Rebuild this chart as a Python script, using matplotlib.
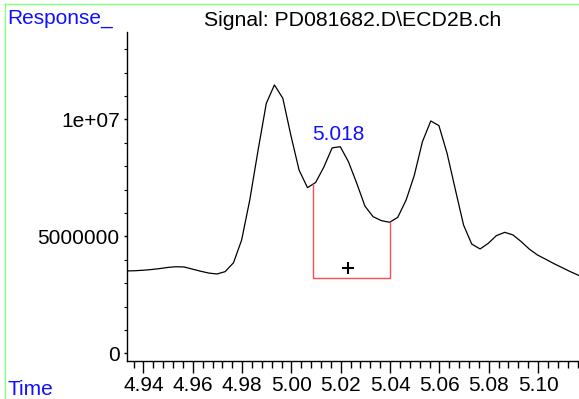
import matplotlib
matplotlib.use("Agg")
import matplotlib.pyplot as plt
from matplotlib.ticker import MultipleLocator, FixedLocator, FixedFormatter
from matplotlib.lines import Line2D
import numpy as np

# ---- data ----
times = [4.9331, 4.9365, 4.9398, 4.9431, 4.9465, 4.9498, 4.9531, 4.9565, 4.9598, 4.9631,
         4.9665, 4.9698, 4.9731, 4.9765, 4.9798, 4.9831, 4.9865, 4.9898, 4.9931, 4.9965,
         4.9998, 5.0031, 5.0065, 5.0098, 5.0131, 5.0165, 5.0198, 5.0231, 5.0265, 5.0298,
         5.0331, 5.0365, 5.0398, 5.0431, 5.0465, 5.0498, 5.0531, 5.0565, 5.0598, 5.0631,
         5.0665, 5.0698, 5.0731, 5.0765, 5.0798, 5.0831, 5.0865, 5.0898, 5.0931, 5.0965,
         5.0998, 5.1031, 5.1065, 5.1098, 5.1131, 5.1165]
response = [3.52e6, 3.53e6, 3.55e6, 3.58e6, 3.62e6, 3.67e6, 3.70e6, 3.69e6, 3.60e6, 3.51e6,
            3.43e6, 3.39e6, 3.49e6, 3.87e6, 4.84e6, 6.55e6, 8.70e6, 1.068e7, 1.147e7, 1.090e7,
            9.30e6, 7.83e6, 7.08e6, 7.30e6, 7.95e6, 8.78e6, 8.83e6, 8.19e6, 7.26e6, 6.29e6,
            5.84e6, 5.67e6, 5.60e6, 5.81e6, 6.55e6, 7.60e6, 9.04e6, 9.93e6, 9.73e6, 8.55e6,
            6.98e6, 5.48e6, 4.67e6, 4.46e6, 4.70e6, 5.03e6, 5.17e6, 5.06e6, 4.78e6, 4.45e6,
            4.20e6, 4.02e6, 3.83e6, 3.66e6, 3.49e6, 3.33e6]

peak_label = "5.018"
peak_label_pos = (5.019, 9.37e6)
integ_start = 5.0089
integ_end = 5.0400
integ_base = 3.21e6
plus_pos = (5.0231, 3.63e6)

x_ticks = [4.94, 4.96, 4.98, 5.00, 5.02, 5.04, 5.06, 5.08, 5.10]
x_tick_labels = ["4.94", "4.96", "4.98", "5.00", "5.02", "5.04", "5.06", "5.08", "5.10"]
y_ticks = [0, 5e6, 1e7]
y_tick_labels = ["0", "5000000", "1e+07"]

title = "Signal: PD081682.D\\ECD2B.ch"

# ---- figure ----
W, H = 579, 399
fig = plt.figure(figsize=(W / 100, H / 100), dpi=100)
plt.rcParams['font.family'] = ['Liberation Sans', 'DejaVu Sans']
FS = 15

ax_left = 126.7
ax_bottom = 360.7
ax_top = 31.7
ax = fig.add_axes([ax_left / W, 1 - ax_bottom / H, 1 - ax_left / W, (ax_bottom - ax_top) / H])

ax.plot(times, response, color='black', lw=0.9)

# integration bracket
y_s = np.interp(integ_start, times, response)
y_e = np.interp(integ_end, times, response)
ax.plot([integ_start, integ_start, integ_end, integ_end], [y_s, integ_base, integ_base, y_e],
        color='#ff4d4d', lw=1.0)
ax.plot([plus_pos[0]], [plus_pos[1]], marker='+', color='black', ms=9, mew=1.5)
ax.text(peak_label_pos[0], peak_label_pos[1], peak_label, color='#1010ff', fontsize=FS,
        ha='center', va='center')

ax.set_xlim(4.9332, 5.1166)
ax.set_ylim(-3.15e5, 1.3744e7)

for s in ['top', 'right']:
    ax.spines[s].set_visible(False)
for s in ['left', 'bottom']:
    ax.spines[s].set_linewidth(1.0)

ax.xaxis.set_major_locator(FixedLocator(x_ticks))
ax.xaxis.set_major_formatter(FixedFormatter(x_tick_labels))
ax.xaxis.set_minor_locator(MultipleLocator(0.004))
ax.yaxis.set_major_locator(FixedLocator(y_ticks))
ax.yaxis.set_major_formatter(FixedFormatter(y_tick_labels))
ax.yaxis.set_minor_locator(MultipleLocator(1e6))

ax.tick_params(axis='x', which='major', length=8.4, width=1.0, pad=2.5, labelsize=FS, direction='out')
ax.tick_params(axis='x', which='minor', length=4.8, width=1.0, direction='out')
ax.tick_params(axis='y', which='major', length=2.5, width=1.0, pad=2.5, labelsize=FS, direction='out')
ax.tick_params(axis='y', which='minor', length=2.0, width=0.8, direction='out')

# labels / title
fig.text(7 / W, 1 - 24 / H, "Response_", color='#1010ff', fontsize=FS, ha='left', va='baseline')
fig.text(353 / W, 1 - 26.5 / H, title, color='black', fontsize=15.3, ha='center', va='baseline')
fig.text(7 / W, 1 - 395 / H, "Time", color='#1010ff', fontsize=FS, ha='left', va='baseline')

# green frame
green = '#80ff80'
fig.add_artist(Line2D([5 / W, 1], [1 - 4 / H, 1 - 4 / H], transform=fig.transFigure, color=green, lw=1.0))
fig.add_artist(Line2D([5 / W, 5 / W], [0, 1 - 4 / H], transform=fig.transFigure, color=green, lw=1.0))

fig.savefig("out.png", dpi=100)
